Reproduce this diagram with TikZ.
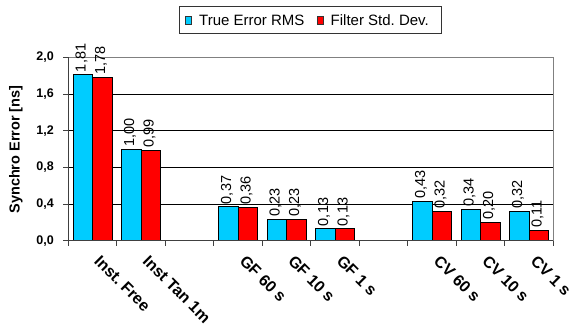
\documentclass[tikz,border=0pt]{standalone}
\usepackage{fontspec}
\setmainfont{Liberation Sans}
\frenchspacing
\definecolor{barblue}{HTML}{00CCFF}
\definecolor{barred}{HTML}{FF0000}
\definecolor{framegray}{HTML}{808080}
\begin{document}
\begin{tikzpicture}[x=1pt,y=-1pt,
  bar/.style={draw=black, line width=0.8pt},
  grid/.style={draw=black, line width=0.6pt},
  axisline/.style={draw=black!75, line width=0.8pt},
  ticklab/.style={anchor=east, inner sep=0pt, font=\bfseries\fontsize{12.5}{12.5}\selectfont},
  vallab/.style={anchor=west, rotate=90, inner sep=0pt, font=\fontsize{14.5}{14.5}\selectfont},
  catlab/.style={anchor=north west, rotate=-45, inner sep=0pt, font=\bfseries\fontsize{16}{16}\selectfont},
  legtext/.style={anchor=west, inner sep=0pt, font=\fontsize{15}{15}\selectfont},
  legbox/.style={draw=black!80, line width=0.8pt}
]
\useasboundingbox (0,0) rectangle (577,326);
% plot area frame (top and right in gray)
\draw[draw=framegray, line width=0.8pt] (68,57.3) -- (553,57.3) -- (553,240.7);
% gridlines
\foreach \v in {0.4,0.8,1.2,1.6}
  \draw[grid] (68,{240.7-91.7*\v}) -- (553,{240.7-91.7*\v});
% bars
\foreach \i/\b/\r/\bl/\rl in {0/1.81/1.78/{1,81}/{1,78}, 1/1.00/0.99/{1,00}/{0,99},
  3/0.37/0.36/{0,37}/{0,36}, 4/0.23/0.23/{0,23}/{0,23}, 5/0.13/0.13/{0,13}/{0,13},
  7/0.43/0.32/{0,43}/{0,32}, 8/0.34/0.20/{0,34}/{0,20}, 9/0.32/0.11/{0,32}/{0,11}}{
  \draw[bar, fill=barblue] ({68+48.5*\i+5},240.7) rectangle ({68+48.5*\i+24.5},{240.7-91.7*\b});
  \draw[bar, fill=barred] ({68+48.5*\i+24.5},240.7) rectangle ({68+48.5*\i+44},{240.7-91.7*\r});
  \node[vallab] (vb\i) at ({68+48.5*\i+13.5},{240.7-91.7*\b-2.5}) {\bl};
  \node[vallab] (vr\i) at ({68+48.5*\i+33},{240.7-91.7*\r-2.5}) {\rl};
}
% axes
\draw[axisline] (68,57.3) -- (68,240.7);
\draw[axisline] (68,240.7) -- (553,240.7);
\foreach \v in {0,0.4,0.8,1.2,1.6,2.0}
  \draw[axisline] (63,{240.7-91.7*\v}) -- (68,{240.7-91.7*\v});
\foreach \i in {0,...,10}
  \draw[axisline] ({68+48.5*\i},240.7) -- ({68+48.5*\i},245.5);
% tick labels
\node[ticklab] (t0) at (54,240.7) {0,0};
\node[ticklab] (t1) at (54,204.0) {0,4};
\node[ticklab] (t2) at (54,167.3) {0,8};
\node[ticklab] (t3) at (54,130.7) {1,2};
\node[ticklab] (t4) at (54,94.0) {1,6};
\node[ticklab] (t5) at (54,57.3) {2,0};
% y title
\node[rotate=90, inner sep=0pt, font=\bfseries\fontsize{14.5}{14.5}\selectfont] (ytitle) at (16,149.5) {Synchro Error [ns]};
% category labels
\foreach \i/\t in {0/Inst. Free, 1/Inst Tan 1m, 3/GF 60 s, 4/GF 10 s, 5/GF 1 s, 7/CV 60 s, 8/CV 10 s, 9/CV 1 s}
  \node[catlab] (c\i) at ({68+48.5*\i+24.25+9},254) {\t};
% legend
\draw[legbox, fill=white] (179.5,6.7) rectangle (441,33.3);
\draw[draw=black!80, line width=0.8pt, fill=barblue] (185,16) rectangle (191,24);
\node[legtext] (l1) at (199,20) {True Error RMS};
\draw[draw=black!80, line width=0.8pt, fill=barred] (317,16) rectangle (323,24);
\node[legtext] (l2) at (330.5,20) {Filter Std. Dev.};
\end{tikzpicture}
\end{document}
